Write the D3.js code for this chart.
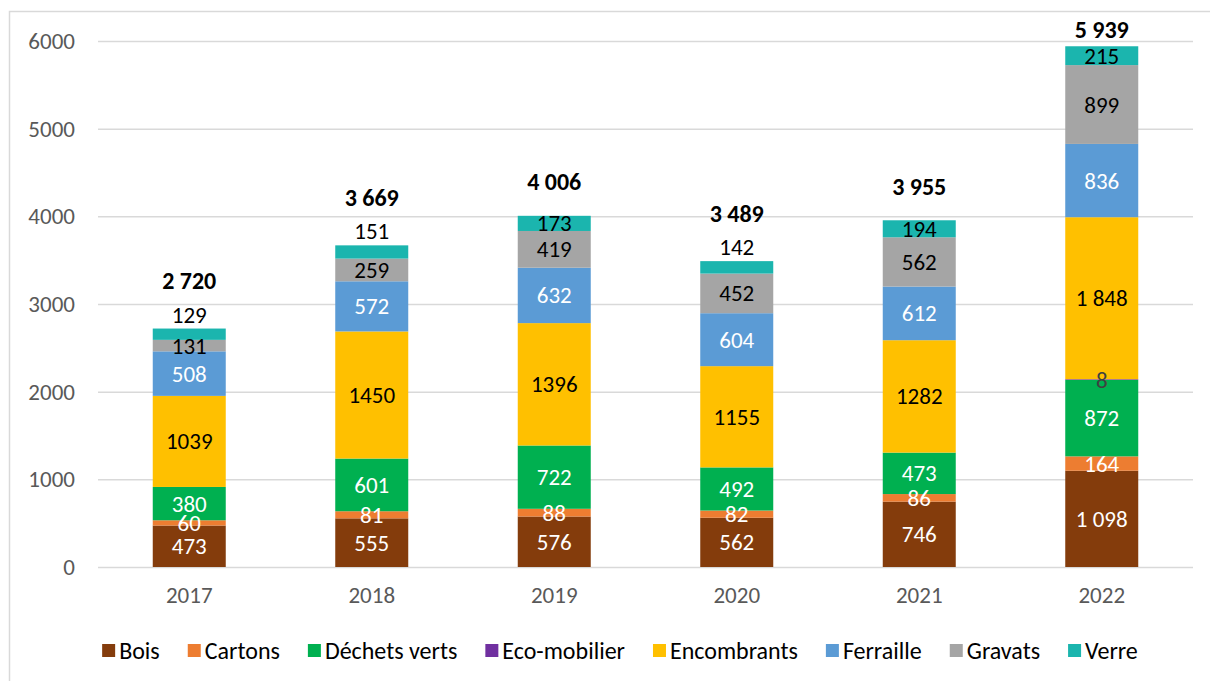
<!DOCTYPE html>
<html>
<head>
<meta charset="utf-8">
<script src="https://cdn.jsdelivr.net/npm/d3@7"></script>
<style>
  body { margin: 0; background: #fff; }
  text { font-family: Calibri, Carlito, Lato, sans-serif; }
</style>
</head>
<body>
<div id="chart"></div>
<script>
// Données
const annees = ["2017", "2018", "2019", "2020", "2021", "2022"];
const categories = ["Bois", "Cartons", "Déchets verts", "Eco-mobilier", "Encombrants", "Ferraille", "Gravats", "Verre"];
const bois = [473, 555, 576, 562, 746, 1098];
const cartons = [60, 81, 88, 82, 86, 164];
const dechetsVerts = [380, 601, 722, 492, 473, 872];
const ecoMobilier = [0, 0, 0, 0, 0, 8];
const encombrants = [1039, 1450, 1396, 1155, 1282, 1848];
const ferraille = [508, 572, 632, 604, 612, 836];
const gravats = [131, 259, 419, 452, 562, 899];
const verre = [129, 151, 173, 142, 194, 215];
const totaux = [2720, 3669, 4006, 3489, 3955, 5939];
const yTicks = [0, 1000, 2000, 3000, 4000, 5000, 6000];
// années où l'étiquette "Verre" est posée au-dessus de la barre
const verreDehors = ["2017", "2018", "2020"];

const series = [bois, cartons, dechetsVerts, ecoMobilier, encombrants, ferraille, gravats, verre];
const couleurs = ["#843C0C", "#ED7D31", "#00B050", "#7030A0", "#FFC000", "#5B9BD5", "#A5A5A5", "#1BB5AE"];
const couleursTexte = ["#fff", "#fff", "#fff", "#404040", "#000", "#fff", "#000", "#000"];

const police = "Calibri, Carlito, Lato, sans-serif";
const taille = "23px";

// Format avec espace comme séparateur de milliers
const fmtEspace = v => d3.format(",")(v).replace(/,/g, " ");

const width = 1210, height = 681;
const svg = d3.select("#chart").append("svg")
    .attr("width", width)
    .attr("height", height);

svg.append("rect")
    .attr("width", width).attr("height", height)
    .style("fill", "#fff");

// Cadre gris
svg.append("rect")
    .attr("x", 9.5).attr("y", 11.5)
    .attr("width", 1230).attr("height", 700)
    .style("fill", "none")
    .style("stroke", "#D9D9D9")
    .style("stroke-width", 1.5);

// Échelles
const xScale = d3.scaleBand()
    .domain(annees)
    .range([98, 1193])
    .paddingInner(0.6)
    .paddingOuter(0.3);

const yScale = d3.scaleLinear()
    .domain([0, 6000])
    .range([567, 41]);

// Lignes de grille + axe Y
svg.append("g")
    .attr("transform", "translate(98,0)")
    .call(d3.axisLeft(yScale).tickValues(yTicks).tickSize(-1095).tickFormat(d => d).tickPadding(23))
    .call(g => g.select(".domain").remove())
    .call(g => g.selectAll(".tick line").style("stroke", "#D9D9D9").style("stroke-width", 1.5))
    .call(g => g.selectAll(".tick text").style("fill", "#595959").style("font-size", taille).style("font-family", police));

// Axe X
svg.append("g")
    .attr("transform", "translate(0,567)")
    .call(d3.axisBottom(xScale).tickSize(0).tickPadding(20))
    .call(g => g.select(".domain").remove())
    .call(g => g.selectAll(".tick text").style("fill", "#595959").style("font-size", taille).style("font-family", police));

// Empilement
const table = annees.map((a, i) => {
    const row = { annee: a };
    categories.forEach((c, j) => row[c] = series[j][i]);
    return row;
});
const stack = d3.stack().keys(categories)(table);

const couches = svg.append("g").selectAll("g")
    .data(stack)
    .join("g")
    .style("fill", (d, j) => couleurs[j]);

couches.selectAll("rect")
    .data(d => d)
    .join("rect")
    .attr("x", d => xScale(d.data.annee))
    .attr("width", xScale.bandwidth())
    .attr("y", d => yScale(d[1]))
    .attr("height", d => yScale(d[0]) - yScale(d[1]));

// Étiquettes de valeurs
stack.forEach((couche, j) => {
    const dehors = d => categories[j] === "Verre" && verreDehors.includes(d.data.annee);
    svg.append("g").selectAll("text")
        .data(couche.filter(d => d[1] - d[0] > 0))
        .join("text")
        .attr("x", d => xScale(d.data.annee) + xScale.bandwidth() / 2)
        .attr("y", d => dehors(d) ? yScale(d[1]) - 14 : yScale((d[0] + d[1]) / 2))
        .attr("dy", "0.35em")
        .attr("text-anchor", "middle")
        .style("font-size", taille)
        .style("fill", d => dehors(d) ? "#000" : couleursTexte[j])
        .text(d => {
            const v = d[1] - d[0];
            return d.data.annee === "2022" ? fmtEspace(v) : String(v);
        });
});

// Totaux en gras
svg.append("g").selectAll("text")
    .data(annees)
    .join("text")
    .attr("x", a => xScale(a) + xScale.bandwidth() / 2)
    .attr("y", (a, i) => {
        const haut = yScale(d3.sum(series, s => s[i]));
        const y = verreDehors.includes(a) ? haut - 48 : haut - 34;
        return Math.max(30, y);
    })
    .attr("dy", "0.35em")
    .attr("text-anchor", "middle")
    .style("font-size", "24px")
    .style("font-weight", "bold")
    .style("fill", "#000")
    .text((a, i) => fmtEspace(totaux[i]));

// Légende
const legende = svg.append("g").attr("transform", "translate(0,651)");
const items = legende.selectAll("g")
    .data(categories)
    .join("g");

items.append("rect")
    .attr("y", -7)
    .attr("width", 13)
    .attr("height", 13)
    .style("fill", (d, j) => couleurs[j]);

items.append("text")
    .attr("x", 17)
    .attr("dy", "0.35em")
    .style("font-size", "24px")
    .style("fill", "#000")
    .text(d => d);

const ecart = 28;
let pos = 0;
const positions = [];
items.each(function () {
    positions.push(pos);
    pos += this.getBBox().width + ecart;
});
const depart = 620 - (pos - ecart) / 2;
items.attr("transform", (d, j) => `translate(${depart + positions[j]},0)`);
</script>
</body>
</html>
